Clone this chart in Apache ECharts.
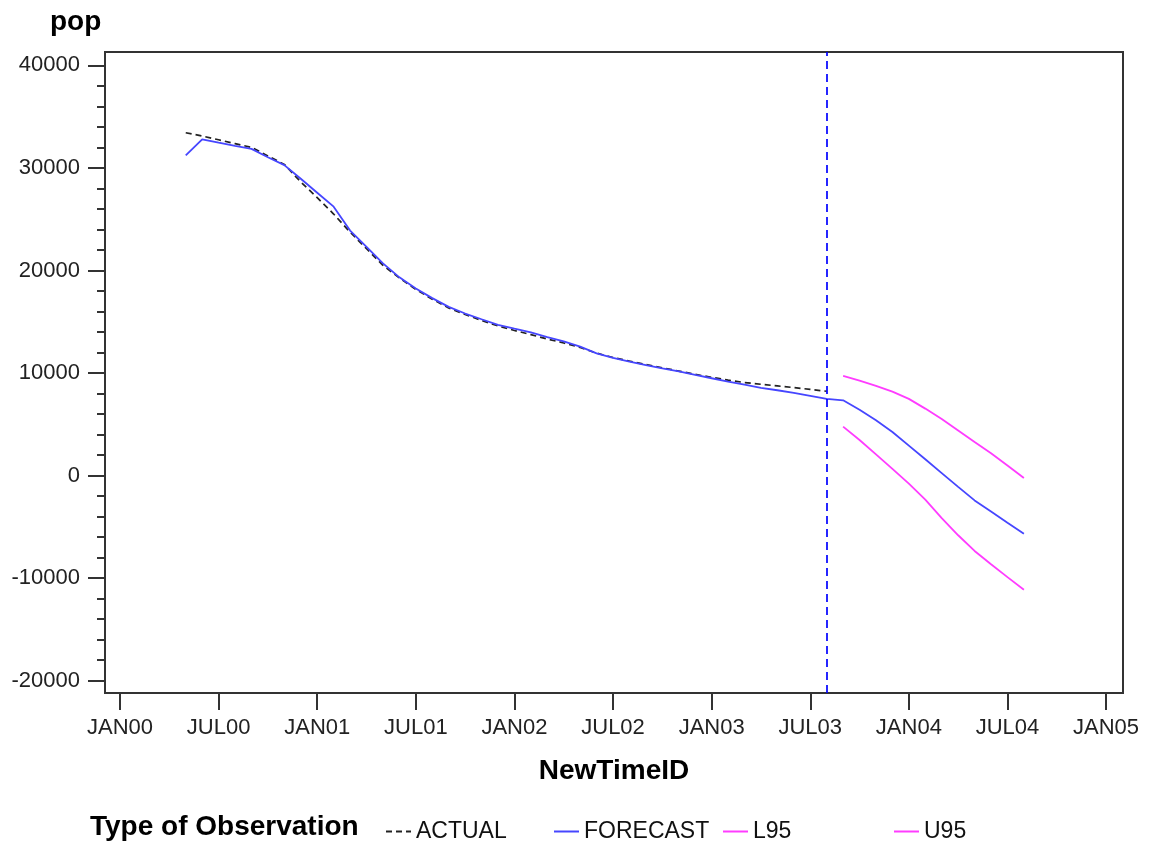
<!DOCTYPE html>
<html>
<head>
<meta charset="utf-8">
<script src="https://cdn.jsdelivr.net/npm/echarts@6/dist/echarts.min.js"></script>
<style>
html,body{margin:0;padding:0;background:#fff;}
#chart{width:1150px;height:846px;}
</style>
</head>
<body>
<div id="chart"></div>
<script>
// Months counted from JAN00 (0 = JAN 2000)
const actualStartMonth = 4;      // MAY00
const forecastStartMonth = 4;    // MAY00
const bandStartMonth = 44;       // SEP03
const refLineMonth = 43;         // AUG03

const actualValues = [33430,33110,32740,32370,32000,31170,30340,28630,27100,25500,
  23730,22120,20500,19270,18150,17200,16350,15710,15120,14590,
  14150,13740,13320,12930,12490,11940,11510,11160,10830,10510,
  10190,9870,9580,9310,9070,8900,8740,8580,8400,8220];

const forecastValues = [31220,32780,32460,32150,31850,31040,30270,28940,27580,26220,
  23890,22290,20690,19330,18250,17300,16450,15800,15240,14700,
  14320,13960,13510,13080,12580,11920,11470,11120,10780,10460,
  10150,9810,9490,9170,8860,8560,8320,8060,7780,7480,
  7340,6410,5390,4250,2920,1590,240,-1100,-2420,-3510,-4600,-5680];

const l95Values = [4770,3470,2070,650,-790,-2350,-4150,-5820,-7350,-8640,-9900,-11130];
const u95Values = [9710,9260,8740,8180,7480,6530,5520,4400,3280,2180,990,-230];

const xTickValues = [0,6,12,18,24,30,36,42,48,54,60];
const xTickLabels = ['JAN00','JUL00','JAN01','JUL01','JAN02','JUL02','JAN03','JUL03','JAN04','JUL04','JAN05'];
const yMajorTicks = [-20000,-10000,0,10000,20000,30000,40000];
const yMinorTicks = [-20000,-18000,-16000,-14000,-12000,-10000,-8000,-6000,-4000,-2000,0,2000,4000,6000,8000,10000,12000,14000,16000,18000,20000,22000,24000,26000,28000,30000,32000,34000,36000,38000,40000];
const legendNames = ['ACTUAL', 'FORECAST', 'L95', 'U95'];
const legendLefts = [380, 548, 717, 888];

const FONT = "'Liberation Sans', Arial, Helvetica, sans-serif";
const toPairs = (start, vals) => vals.map((v, i) => [start + i, v]);

const legends = legendNames.map((n, i) => ({
  left: legendLefts[i], top: 815, itemWidth: 25, itemHeight: 14,
  itemStyle: {opacity: 0},
  textStyle: {fontFamily: FONT, fontSize: 23, color: '#111'},
  data: [n]
}));

const chart = echarts.init(document.getElementById('chart'), null, {renderer: 'canvas'});
chart.setOption({
  animation: false,
  backgroundColor: '#fff',
  title: [
    {text: 'pop', left: 45, top: 3, textStyle: {fontFamily: FONT, fontSize: 28, fontWeight: 'bold', color: '#000'}},
    {text: 'Type of Observation', left: 85, top: 808, textStyle: {fontFamily: FONT, fontSize: 28, fontWeight: 'bold', color: '#000'}}
  ],
  grid: {left: 105, right: 27, top: 52, bottom: 153, show: true, borderColor: '#333', borderWidth: 2, backgroundColor: 'transparent'},
  legend: legends,
  xAxis: {
    type: 'value', min: -0.913, max: 61.03,
    name: 'NewTimeID', nameLocation: 'middle', nameGap: 64,
    nameTextStyle: {fontFamily: FONT, fontSize: 28, fontWeight: 'bold', color: '#000'},
    axisLine: {show: false, onZero: false},
    splitLine: {show: false},
    axisTick: {show: true, customValues: xTickValues, length: 17, lineStyle: {color: '#333', width: 2}},
    axisLabel: {
      customValues: xTickValues, margin: 24, fontFamily: FONT, fontSize: 22, color: '#222',
      formatter: (v) => xTickLabels[xTickValues.indexOf(Math.round(v))] || ''
    }
  },
  yAxis: [
    {
      type: 'value', min: -21200, max: 41300, position: 'left',
      axisLine: {show: false, onZero: false}, splitLine: {show: false},
      axisTick: {show: true, customValues: yMajorTicks, length: 17, lineStyle: {color: '#333', width: 2}},
      axisLabel: {customValues: yMajorTicks, margin: 25, fontFamily: FONT, fontSize: 22, color: '#222',
        formatter: (v) => String(Math.round(v))}
    },
    {
      type: 'value', min: -21200, max: 41300, position: 'left',
      axisLine: {show: false, onZero: false}, splitLine: {show: false},
      axisTick: {show: true, customValues: yMinorTicks, length: 8, lineStyle: {color: '#333', width: 2}},
      axisLabel: {show: false}
    }
  ],
  series: [
    {
      name: 'ACTUAL', type: 'line', data: toPairs(actualStartMonth, actualValues),
      showSymbol: false, symbol: 'none',
      lineStyle: {color: '#222', width: 1.7, type: [6, 4]}, itemStyle: {color: '#222'}
    },
    {
      name: 'FORECAST', type: 'line', data: toPairs(forecastStartMonth, forecastValues),
      showSymbol: false, symbol: 'none',
      lineStyle: {color: '#4646ff', width: 1.8}, itemStyle: {color: '#4646ff'},
      markLine: {
        symbol: 'none', silent: true, label: {show: false},
        lineStyle: {color: '#0000ff', width: 1.7, type: [8, 5]},
        data: [{xAxis: refLineMonth}]
      }
    },
    {
      name: 'L95', type: 'line', data: toPairs(bandStartMonth, l95Values),
      showSymbol: false, symbol: 'none',
      lineStyle: {color: '#ff3cff', width: 1.8}, itemStyle: {color: '#ff3cff'}
    },
    {
      name: 'U95', type: 'line', data: toPairs(bandStartMonth, u95Values),
      showSymbol: false, symbol: 'none',
      lineStyle: {color: '#ff3cff', width: 1.8}, itemStyle: {color: '#ff3cff'}
    }
  ]
});
</script>
</body>
</html>
